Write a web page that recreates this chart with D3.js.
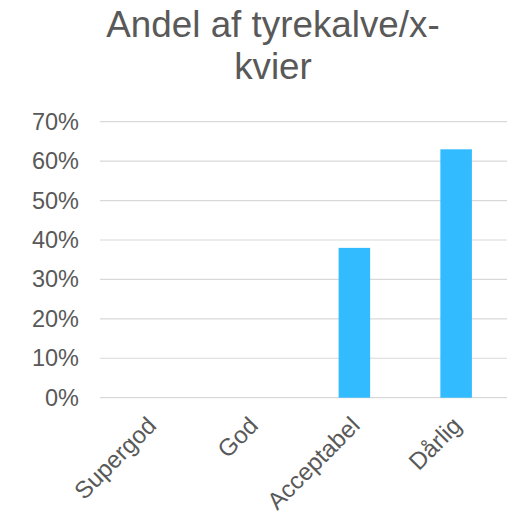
<!DOCTYPE html>
<html lang="da">
<head>
    <meta charset="UTF-8">
    <title>Andel af tyrekalve/x-kvier</title>
    <script src="https://d3js.org/d3.v7.min.js"></script>
    <style>
        body { margin: 0; background: #fff; font-family: "Liberation Sans", Arial, sans-serif; }
    </style>
</head>
<body>
<script>
    // Data
    const categories = ["Supergod", "God", "Acceptabel", "Dårlig"];
    const shares = [0, 0, 0.38, 0.63];
    const yTicks = [0, 0.1, 0.2, 0.3, 0.4, 0.5, 0.6, 0.7];
    const titleLines = ["Andel af tyrekalve/x-", "kvier"];

    const W = 508, H = 514;
    const plot = {left: 100, right: 507, top: 121.7, bottom: 397.7};
    const textColor = "#595959";

    const svg = d3.select("body").append("svg")
        .attr("width", W)
        .attr("height", H);

    // Title
    svg.append("text")
        .attr("x", 273)
        .attr("y", 36.7)
        .attr("text-anchor", "middle")
        .style("font-size", "36.8px")
        .attr("fill", textColor)
        .selectAll("tspan")
        .data(titleLines)
        .enter().append("tspan")
        .attr("x", 273)
        .attr("dy", (d, i) => i === 0 ? 0 : 42.3)
        .text(d => d);

    // Scales
    const x = d3.scaleBand().domain(categories).range([plot.left, plot.right]).padding(0);
    const y = d3.scaleLinear().domain([0, 0.7]).range([plot.bottom, plot.top]);
    const barW = x.bandwidth() * 0.31;

    // Gridlines
    svg.append("g")
        .selectAll("line")
        .data(yTicks)
        .enter().append("line")
        .attr("x1", plot.left)
        .attr("x2", plot.right)
        .attr("y1", d => y(d))
        .attr("y2", d => y(d))
        .attr("stroke", "#d9d9d9")
        .attr("stroke-width", 1.2);

    // Y axis labels
    const yAxis = svg.append("g")
        .attr("transform", `translate(${plot.left - 21},0)`)
        .call(d3.axisLeft(y).tickValues(yTicks).tickFormat(d3.format(".0%")).tickSize(0).tickPadding(0));
    yAxis.select(".domain").remove();
    yAxis.selectAll("text")
        .attr("fill", textColor)
        .style("font-size", "23.5px")
        .style("font-family", "'Liberation Sans', Arial, sans-serif");

    // Bars
    svg.append("g")
        .selectAll("rect")
        .data(categories.map((c, i) => ({c, v: shares[i]})))
        .enter().append("rect")
        .attr("x", d => x(d.c) + (x.bandwidth() - barW) / 2)
        .attr("y", d => y(d.v))
        .attr("width", barW)
        .attr("height", d => y(0) - y(d.v))
        .attr("fill", "#33bbff");

    // X axis labels, rotated
    svg.append("g")
        .selectAll("text")
        .data(categories)
        .enter().append("text")
        .attr("transform", d => `translate(${x(d) + x.bandwidth() / 2 - 5},${plot.bottom + 17.5}) rotate(-45)`)
        .attr("text-anchor", "end")
        .attr("dy", "0.7em")
        .attr("fill", textColor)
        .style("font-size", "24px")
        .text(d => d);
</script>
</body>
</html>
